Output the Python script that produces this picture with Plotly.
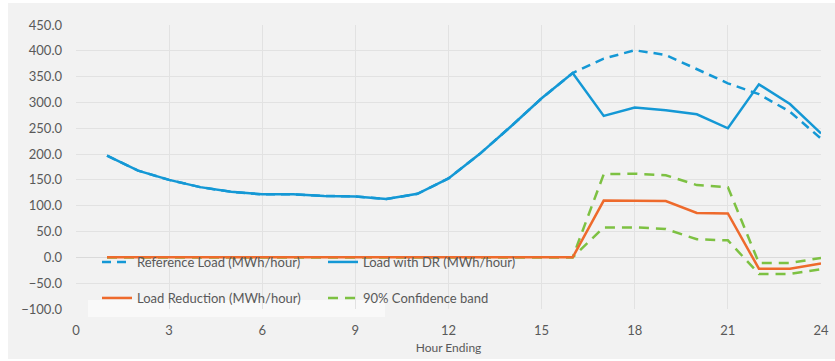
import plotly.graph_objects as go

hours = list(range(1, 25))
reference_load = [197, 168, 150, 136, 127, 122, 122, 119, 118, 113, 123, 153,
                  200, 253, 308, 357, 385, 401, 392, 364, 337, 316, 282, 230]
load_with_dr = [197, 168, 150, 136, 127, 122, 122, 119, 118, 113, 123, 153,
                200, 253, 308, 357, 274, 290, 285, 277, 250, 335, 297, 240]
load_reduction = [0, 0, 0, 0, 0, 0, 0, 0, 0, 0, 0, 0,
                  0, 0, 0, 0, 110, 110, 109, 86, 85, -22, -22, -12]
band_upper = [0, 0, 0, 0, 0, 0, 0, 0, 0, 0, 0, 0,
              0, 0, 0, 0, 161, 162, 159, 140, 136, -11, -11, -1]
band_lower = [0, 0, 0, 0, 0, 0, 0, 0, 0, 0, 0, 0,
              0, 0, 0, 0, 58, 58, 55, 35, 33, -32, -32, -23]
x_ticks = [0, 3, 6, 9, 12, 15, 18, 21, 24]

BLUE = "#1498d5"
ORANGE = "#ee6a2c"
GREEN = "#7dc142"
TXT = "#595959"
FONT = "Lato"

fig = go.Figure()
fig.add_trace(go.Scatter(x=hours, y=band_upper, mode="lines", name="90% Confidence band",
                         line=dict(color=GREEN, width=2.5, dash="10px,7px"),
                         legend="legend2", legendrank=2))
fig.add_trace(go.Scatter(x=hours, y=band_lower, mode="lines", name="90% Confidence band",
                         line=dict(color=GREEN, width=2.5, dash="10px,7px"),
                         showlegend=False))
fig.add_trace(go.Scatter(x=hours, y=load_reduction, mode="lines", name="Load Reduction (MWh/hour)",
                         line=dict(color=ORANGE, width=2.5),
                         legend="legend2", legendrank=1))
fig.add_trace(go.Scatter(x=hours, y=reference_load, mode="lines", name="Reference Load (MWh/hour)",
                         line=dict(color=BLUE, width=2.5, dash="9px,6px"),
                         legend="legend", legendrank=1))
fig.add_trace(go.Scatter(x=hours, y=load_with_dr, mode="lines", name="Load with DR (MWh/hour)",
                         line=dict(color=BLUE, width=2.5),
                         legend="legend", legendrank=2))

L, R, T, B = 76, 14, 25, 52
W, H = 835, 361
pw = W - L - R
ph = H - T - B

def px_x(p):
    return (p - L) / pw

def px_y(p):
    return (H - B - p) / ph

fig.add_shape(type="rect", xref="paper", yref="paper", layer="below",
              x0=px_x(8), x1=px_x(836), y0=px_y(359), y1=px_y(3),
              fillcolor="#f2f2f2", line=dict(width=0))
fig.add_shape(type="rect", xref="paper", yref="paper", layer="below",
              x0=px_x(88), x1=px_x(385), y0=px_y(317), y1=px_y(300),
              fillcolor="#f9f9f9", line=dict(width=0))

legend_common = dict(orientation="h", bgcolor="rgba(0,0,0,0)",
                     font=dict(family=FONT, size=13, color=TXT),
                     entrywidth=181, entrywidthmode="pixels",
                     xanchor="left", yanchor="middle", traceorder="normal",
                     itemwidth=30)

fig.update_layout(
    width=W, height=H,
    margin=dict(l=L, r=R, t=T, b=B),
    paper_bgcolor="white",
    plot_bgcolor="white",
    font=dict(family=FONT, size=13, color=TXT),
    legend=dict(**legend_common, x=px_x(97), y=px_y(262)),
    legend2=dict(**legend_common, x=px_x(97), y=px_y(298)),
    xaxis=dict(range=[0, 24], tickvals=x_ticks, showgrid=True, gridcolor="#e2e2e2",
               gridwidth=1, zeroline=False, showline=False, ticks="",
               ticklabelstandoff=12, automargin=False,
               tickfont=dict(family=FONT, size=13, color=TXT),
               title=dict(text="Hour Ending", font=dict(family=FONT, size=12, color=TXT),
                          standoff=6)),
    yaxis=dict(range=[-100, 450], dtick=50, tick0=0, tickformat=".1f",
               showgrid=True, gridcolor="#e2e2e2", gridwidth=1,
               zeroline=True, zerolinecolor="#dadada", zerolinewidth=1,
               showline=False, ticks="", ticklabelstandoff=13, automargin=False,
               tickfont=dict(family=FONT, size=13, color=TXT)),
)

fig.write_html("out.html")
